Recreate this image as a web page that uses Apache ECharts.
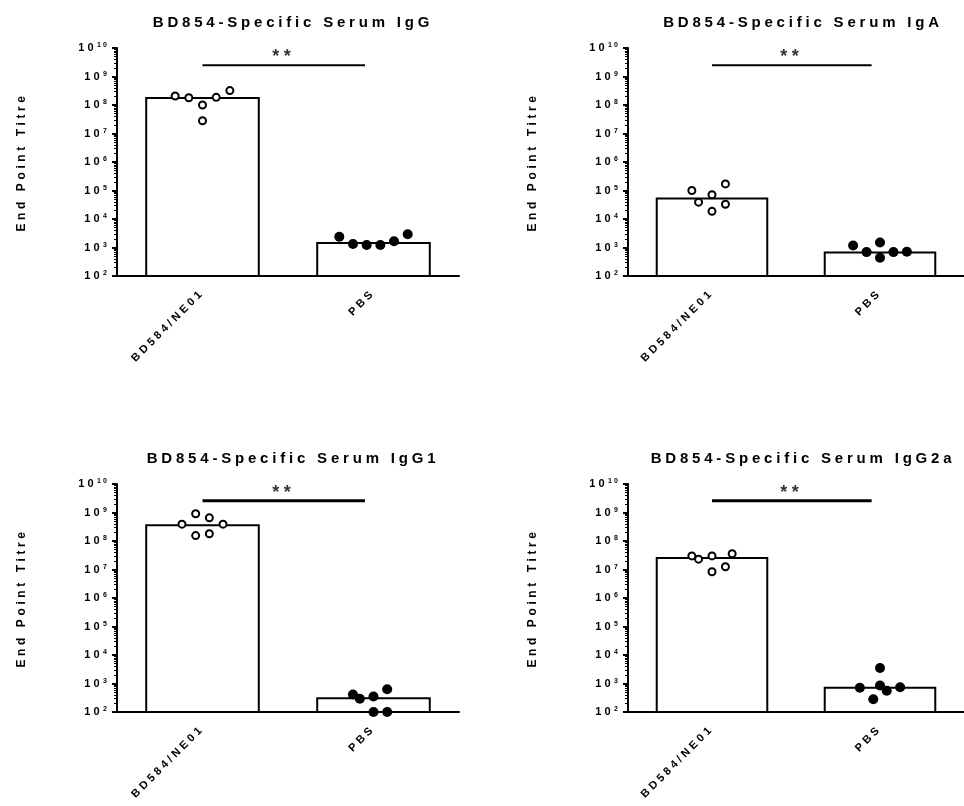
<!DOCTYPE html>
<html><head><meta charset="utf-8">
<script src="https://cdn.jsdelivr.net/npm/echarts@6/dist/echarts.min.js"></script>
<style>html,body{margin:0;padding:0;background:#fff}#c{width:964px;height:806px}</style>
</head><body><div id="c"></div>
<script>
// Wide letter tracking like the original export (applied to drawing and measuring)
(function () {
  var P = window.CanvasRenderingContext2D && CanvasRenderingContext2D.prototype;
  if (!P || !('letterSpacing' in P)) return;
  var f = P.fillText, m = P.measureText;
  function setLS(ctx) {
    var mm = /(\d+(?:\.\d+)?)px/.exec(ctx.font);
    var s = mm ? parseFloat(mm[1]) : 12;
    var r = s >= 14 ? 0.25 : 0.3;
    ctx.letterSpacing = (s * r).toFixed(1) + 'px';
  }
  P.fillText = function (t, x, y, w) { setLS(this); return w === undefined ? f.call(this, t, x, y) : f.call(this, t, x, y, w); };
  P.measureText = function (t) { setLS(this); return m.call(this, t); };
})();

const categories = ['BD584/NE01', 'PBS'];
const titles = ['BD854-Specific Serum IgG', 'BD854-Specific Serum IgA', 'BD854-Specific Serum IgG1', 'BD854-Specific Serum IgG2a'];
const yAxisName = 'End Point Titre';
const sigText = '**';

// Panel 1: IgG
const igG_bars = [1.9e8, 1.55e3];
const igG_vacc = [2.07e8, 1.8e8, 1.0e8, 2.8e7, 1.86e8, 3.2e8];
const igG_vaccJitter = [-0.16, -0.08, 0, 0, 0.08, 0.16];
const igG_pbs = [2.4e3, 1.33e3, 1.23e3, 1.23e3, 1.65e3, 2.9e3];
const igG_pbsJitter = [-0.2, -0.12, -0.04, 0.04, 0.12, 0.2];

// Panel 2: IgA
const igA_bars = [5.7e4, 7.3e2];
const igA_vacc = [1.0e5, 3.9e4, 7.1e4, 1.86e4, 3.3e4, 1.7e5];
const igA_vaccJitter = [-0.12, -0.08, 0, 0, 0.08, 0.08];
const igA_pbs = [1.18e3, 6.9e2, 1.5e3, 4.4e2, 6.9e2, 7.1e2];
const igA_pbsJitter = [-0.16, -0.08, 0, 0, 0.08, 0.16];

// Panel 3: IgG1
const igG1_bars = [3.9e8, 3.3e2];
const igG1_vacc = [3.9e8, 9.0e8, 1.55e8, 6.5e8, 1.8e8, 3.9e8];
const igG1_vaccJitter = [-0.12, -0.04, -0.04, 0.04, 0.04, 0.12];
const igG1_pbs = [4.1e2, 2.9e2, 3.5e2, 1.0e2, 6.3e2, 1.0e2];
const igG1_pbsJitter = [-0.12, -0.08, 0, 0, 0.08, 0.08];

// Panel 4: IgG2a
const igG2a_bars = [2.75e7, 7.7e2];
const igG2a_vacc = [3.0e7, 2.3e7, 3.0e7, 8.3e6, 1.25e7, 3.6e7];
const igG2a_vaccJitter = [-0.12, -0.08, 0, 0, 0.08, 0.12];
const igG2a_pbs = [7.1e2, 2.8e2, 3.5e3, 8.5e2, 5.6e2, 7.4e2];
const igG2a_pbsJitter = [-0.12, -0.04, 0, 0, 0.04, 0.12];

// significance bar heights and span (category units)
const sigY = [2.5e9, 2.5e9, 2.6e9, 2.6e9];
const sigSpan = [0, 0.95];

const FONT = 'Arial, "Liberation Sans", Helvetica, sans-serif';

const panels = [
  { bars: igG_bars, vacc: igG_vacc, vx: igG_vaccJitter, pbs: igG_pbs, px: igG_pbsJitter, grid: { left: 117, top: 48, width: 342, height: 228 }, sigW: 2, titleTop: 8 },
  { bars: igA_bars, vacc: igA_vacc, vx: igA_vaccJitter, pbs: igA_pbs, px: igA_pbsJitter, grid: { left: 628, top: 48, width: 340, height: 228 }, sigW: 2, titleTop: 8 },
  { bars: igG1_bars, vacc: igG1_vacc, vx: igG1_vaccJitter, pbs: igG1_pbs, px: igG1_pbsJitter, grid: { left: 117, top: 484, width: 342, height: 228 }, sigW: 3, titleTop: 444 },
  { bars: igG2a_bars, vacc: igG2a_vacc, vx: igG2a_vaccJitter, pbs: igG2a_pbs, px: igG2a_pbsJitter, grid: { left: 628, top: 484, width: 340, height: 228 }, sigW: 3, titleTop: 444 }
];

const option = {
  animation: false,
  backgroundColor: '#ffffff',
  textStyle: { fontFamily: FONT },
  title: [], grid: [], xAxis: [], yAxis: [], series: []
};

panels.forEach(function (p, i) {
  option.grid.push(Object.assign({ containLabel: false }, p.grid));
  option.title.push({
    text: titles[i], left: p.grid.left + p.grid.width / 2, top: p.titleTop, textAlign: 'center',
    textStyle: { fontFamily: FONT, fontSize: 15, fontWeight: 'bold', color: '#000' }
  });
  option.xAxis.push({
    type: 'category', gridIndex: i, data: categories, position: 'bottom',
    axisLine: { onZero: false, lineStyle: { color: '#000', width: 2 } },
    axisTick: { alignWithLabel: true, length: 5, lineStyle: { color: '#000', width: 2 } },
    axisLabel: { rotate: 45, margin: 15, color: '#000', fontSize: 11, fontWeight: 'bold', fontFamily: FONT },
    splitLine: { show: false }
  });
  option.xAxis.push({ type: 'value', gridIndex: i, min: -0.5, max: 1.5, show: false });
  option.yAxis.push({
    type: 'log', gridIndex: i, logBase: 10, min: 100, max: 1e10, interval: 1,
    name: yAxisName, nameLocation: 'middle', nameRotate: 90, nameGap: 88,
    nameTextStyle: { fontFamily: FONT, fontSize: 12, fontWeight: 'bold', color: '#000' },
    axisLine: { show: true, onZero: false, lineStyle: { color: '#000', width: 2 } },
    axisTick: { show: true, length: 5, lineStyle: { color: '#000', width: 2 } },
    minorTick: { show: true, splitNumber: 9, length: 3, lineStyle: { color: '#000', width: 1 } },
    splitLine: { show: false }, minorSplitLine: { show: false },
    axisLabel: {
      margin: 8, color: '#000',
      formatter: function (v) { return '{b|10}{s|' + Math.round(Math.log10(v)) + '}'; },
      rich: {
        b: { fontFamily: FONT, fontSize: 11, fontWeight: 'bold', color: '#000' },
        s: { fontFamily: FONT, fontSize: 7, fontWeight: 'bold', color: '#000', verticalAlign: 'top' }
      }
    }
  });
  option.series.push({
    type: 'bar', xAxisIndex: 2 * i, yAxisIndex: i, data: p.bars, barWidth: '67%', silent: true,
    itemStyle: { color: '#fff', borderColor: '#000', borderWidth: 2 }
  });
  option.series.push({
    type: 'scatter', xAxisIndex: 2 * i + 1, yAxisIndex: i, clip: false, silent: true, z: 5,
    data: p.vacc.map(function (v, k) { return [0 + p.vx[k], v]; }),
    symbol: 'circle', symbolSize: 7,
    itemStyle: { color: '#fff', borderColor: '#000', borderWidth: 2, opacity: 1 }
  });
  option.series.push({
    type: 'scatter', xAxisIndex: 2 * i + 1, yAxisIndex: i, clip: false, silent: true, z: 5,
    data: p.pbs.map(function (v, k) { return [1 + p.px[k], v]; }),
    symbol: 'circle', symbolSize: 10,
    itemStyle: { color: '#000', opacity: 1 }
  });
  option.series.push({
    type: 'line', xAxisIndex: 2 * i + 1, yAxisIndex: i, silent: true, symbol: 'none',
    data: sigSpan.map(function (x) { return [x, sigY[i]]; }),
    lineStyle: { color: '#000', width: p.sigW }
  });
  option.series.push({
    type: 'scatter', xAxisIndex: 2 * i + 1, yAxisIndex: i, silent: true, symbolSize: 1,
    data: [[(sigSpan[0] + sigSpan[1]) / 2, sigY[i]]],
    itemStyle: { color: 'rgba(0,0,0,0)' },
    label: { show: true, position: 'top', distance: -4, formatter: sigText, color: '#000', fontFamily: FONT, fontSize: 18, fontWeight: 'bold' }
  });
});

const chart = echarts.init(document.getElementById('c'), null, { renderer: 'canvas' });
chart.setOption(option);
</script>
</body></html>
